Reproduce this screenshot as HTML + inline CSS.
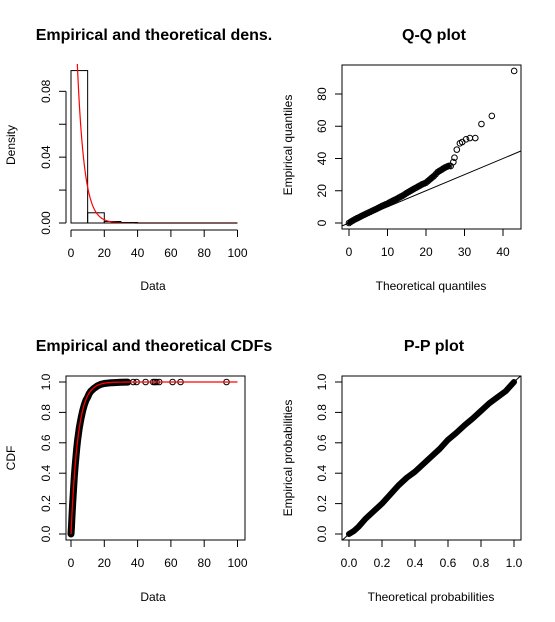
<!DOCTYPE html>
<html><head><meta charset="utf-8"><style>
html,body{margin:0;padding:0;background:#fff;}
svg{display:block;font-family:"Liberation Sans",Arial,sans-serif;}
</style></head><body>
<svg id="chart" width="555" height="622" viewBox="0 0 555 622"></svg>
<script>
// ---- data ----
const histBreaks = [0,10,20,30,40];
const histDens = [0.0926,0.0062,0.0009,0.0003];
const rate = [0.24];
const qqTheo = [0,0.5,1,1.5,2,2.5,3,3.5,4,4.5,5,5.5,6,6.5,7,7.5,8,8.5,9,9.5,10,10.5,11,11.5,12,12.5,13,13.5,14,14.5,15,15.5,16,16.5,17,17.5,18,18.5,19,19.5,20,20.5,21,21.5,22,22.5,23,23.5,24,24.5,25,25.5,26,26.4,27.1,27.4,28.0,28.8,29.4,30.4,31.4,32.8,34.4,37.1,42.9];
const qqEmp  = [0,0.8,1.5,2.2,2.8,3.4,4,4.6,5.2,5.8,6.3,6.9,7.5,8,8.6,9.2,9.8,10.4,11,11.5,12,12.7,13.3,13.9,14.5,15.1,15.8,16.4,17,17.8,18.6,19.3,20,20.7,21.4,22,22.7,23.3,24,24.5,25,26,27,28,29,30.2,31.5,32.3,33,33.8,34.5,35,35.5,35.3,37.8,40.5,45.5,49.4,50.2,51.9,52.7,52.7,61.4,66.4,94.3];
const ecdfX = [0,0.3,0.6,1,1.5,2,2.5,3,3.5,4,4.5,5,6,7,8,9,10,11,12,14,16,18,20,23,26,30,34,37.4,39.4,44.8,49.4,50.4,51.4,53,61,65.8,93.4];
const ecdfY = [0,0.05,0.12,0.2,0.29,0.38,0.45,0.51,0.57,0.62,0.66,0.7,0.76,0.81,0.85,0.88,0.9,0.925,0.94,0.96,0.975,0.985,0.99,0.994,0.996,0.998,0.999,1,1,1,1,1,1,1,1,1,1];
const outX = [37.4,39.4,44.8,49.4,50.4,51.4,53,61,65.8,93.4];
const ppTheo = [0,0.03,0.06,0.1,0.15,0.2,0.25,0.3,0.35,0.4,0.45,0.5,0.55,0.6,0.65,0.7,0.75,0.8,0.85,0.9,0.95,1];
const ppEmp  = [0,0.02,0.05,0.1,0.15,0.2,0.26,0.32,0.37,0.41,0.46,0.51,0.56,0.62,0.665,0.715,0.76,0.81,0.86,0.9,0.94,1];
const xTicksData = [0,20,40,60,80,100];
const densTicks = [0,0.02,0.04,0.06,0.08];
const densLabels = ["0.00","0.04","0.08"];
const qqYTicks = [0,20,40,60,80];
const qqXTicks = [0,10,20,30,40];
const probTicks = [0,0.2,0.4,0.6,0.8,1];
const probLabels = ["0.0","0.2","0.4","0.6","0.8","1.0"];

const NS="http://www.w3.org/2000/svg";
const svg=document.getElementById('chart');
function mk(tag,attrs,parent){const e=document.createElementNS(NS,tag);for(const k in attrs)e.setAttribute(k,attrs[k]);(parent||svg).appendChild(e);return e;}
function txt(s,x,y,size,opts,parent){const t=mk('text',Object.assign({x:x,y:y,'font-size':size,'text-anchor':'middle',fill:'#000'},opts||{}),parent);t.textContent=s;return t;}

const p1x=v=>71+v*1.665, p1y=v=>223-v*1646;
const p2x=v=>349+v*3.85, p2y=v=>223-v*1.6125;
const p3x=v=>71+v*1.665, p3y=v=>534-v*152;
const p4x=v=>349+v*165, p4y=v=>534-v*152;

let t;
t=txt("Empirical and theoretical dens.",154,40,16,{'font-weight':'bold'});

t=txt("Q-Q plot",434,40,16,{'font-weight':'bold'});

t=txt("Empirical and theoretical CDFs",154,351,16,{'font-weight':'bold'});

t=txt("P-P plot",434,351,16,{'font-weight':'bold'});


t=txt("Data",153,290,12);
t=txt("Theoretical quantiles",431,290,12);
t=txt("Data",153,601,12);
t=txt("Theoretical probabilities",431,601,12);
t=txt("Density",15,145,12,{transform:'rotate(-90 15 145)'});
t=txt("Empirical quantiles",292,145,12,{transform:'rotate(-90 292 145)'});
t=txt("CDF",15,458,12,{transform:'rotate(-90 15 458)'});
t=txt("Empirical probabilities",292,458,12,{transform:'rotate(-90 292 458)'});

function xAxis(ticks,labels,sx,y,name){
  const g=mk('g',{});
  mk('line',{x1:sx(ticks[0]),x2:sx(ticks[ticks.length-1]),y1:y,y2:y,stroke:'#000'},g);
  ticks.forEach((v,i)=>{mk('line',{x1:sx(v),x2:sx(v),y1:y,y2:y+7,stroke:'#000'},g);
    if(labels[i]!==undefined) txt(labels[i],sx(v),y+27,12,{},g);});
}
function yAxis(ticks,labels,sy,x,name,every){
  const g=mk('g',{});
  mk('line',{x1:x,x2:x,y1:sy(ticks[0]),y2:sy(ticks[ticks.length-1]),stroke:'#000'},g);
  ticks.forEach((v,i)=>{mk('line',{x1:x,x2:x-7,y1:sy(v),y2:sy(v),stroke:'#000'},g);
    if(i%every===0){const l=labels[i/every];const lx=x-16,ly=sy(v);txt(l,lx,ly,12,{transform:`rotate(-90 ${lx} ${ly})`},g);}});
}
function box(x1,y1,x2,y2,name){const r=mk('rect',{x:x1,y:y1,width:x2-x1,height:y2-y1,fill:'none',stroke:'#000'});}
function clip(id,x1,y1,x2,y2){const d=mk('clipPath',{id:id});mk('rect',{x:x1,y:y1,width:x2-x1,height:y2-y1},d);}

// Panel 1
xAxis(xTicksData,xTicksData.map(String),p1x,230,'density-x-axis');
yAxis(densTicks,densLabels,p1y,66,'density-y-axis',2);
histDens.forEach((d,i)=>{
  const r=mk('rect',{x:p1x(histBreaks[i]),y:p1y(d),width:p1x(histBreaks[i+1])-p1x(histBreaks[i]),height:p1y(0)-p1y(d),fill:'none',stroke:'#000'});
  
  
});
clip('c1',66,64,245,229);
{
  let pts=[];for(let x=0.2;x<=100;x+=0.4)pts.push(p1x(x)+','+p1y(rate[0]*Math.exp(-rate[0]*x)));
  const pl=mk('polyline',{points:pts.join(' '),fill:'none',stroke:'#f00','stroke-width':1.2,'clip-path':'url(#c1)'});
  
  
}
mk('line',{x1:p1x(0),x2:p1x(100),y1:p1y(0),y2:p1y(0),stroke:'#000'});

// Panel 2
box(342,65,521,229,'qq-plot-box');
xAxis(qqXTicks,qqXTicks.map(String),p2x,229,'qq-x-axis');
yAxis(qqYTicks,qqYTicks.map(String),p2y,342,'qq-y-axis',1);
clip('c2',342,65,521,229);
{
  const l=mk('line',{x1:p2x(-5),y1:p2y(-5),x2:p2x(60),y2:p2y(60),stroke:'#000','clip-path':'url(#c2)'});
  
  const pts=[];qqTheo.forEach((v,i)=>{if(v<=26)pts.push(p2x(v)+','+p2y(qqEmp[i]));});
  const band=mk('polyline',{points:pts.join(' '),fill:'none',stroke:'#000','stroke-width':4,'stroke-linecap':'round'});
  
  qqTheo.forEach((v,i)=>{
    const c=mk('circle',{cx:p2x(v),cy:p2y(qqEmp[i]),r:2.8,fill:'none',stroke:'#000'});
    
    
  });
}

// Panel 3
box(66,376,245,540,'cdf-plot-box');
xAxis(xTicksData,xTicksData.map(String),p3x,540,'cdf-x-axis');
yAxis(probTicks,probLabels,p3y,66,'cdf-y-axis',1);
{
  const pts=[];ecdfX.forEach((v,i)=>{if(v<=35)pts.push(p3x(v)+','+p3y(ecdfY[i]));});
  const band=mk('polyline',{points:pts.join(' '),fill:'none',stroke:'#000','stroke-width':7,'stroke-linecap':'round','stroke-linejoin':'round'});
  
  outX.forEach(v=>{
    const c=mk('circle',{cx:p3x(v),cy:p3y(1),r:2.8,fill:'none',stroke:'#000'});
    
    
  });
  let fp=[];for(let x=0;x<=100;x+=0.25)fp.push(p3x(x)+','+p3y(1-Math.exp(-rate[0]*x)));
  const pl=mk('polyline',{points:fp.join(' '),fill:'none',stroke:'#f00','stroke-width':1.3});
  
}

// Panel 4
box(342,376,521,540,'pp-plot-box');
xAxis(probTicks,probLabels,p4x,540,'pp-x-axis');
yAxis(probTicks,probLabels,p4y,342,'pp-y-axis',1);
clip('c4',342,376,521,540);
{
  const l=mk('line',{x1:p4x(-0.1),y1:p4y(-0.1),x2:p4x(1.1),y2:p4y(1.1),stroke:'#000','clip-path':'url(#c4)'});
  
  const pts=ppTheo.map((v,i)=>p4x(v)+','+p4y(ppEmp[i]));
  const band=mk('polyline',{points:pts.join(' '),fill:'none',stroke:'#000','stroke-width':6,'stroke-linecap':'round','stroke-linejoin':'round'});
  
}
</script>
</body></html>
